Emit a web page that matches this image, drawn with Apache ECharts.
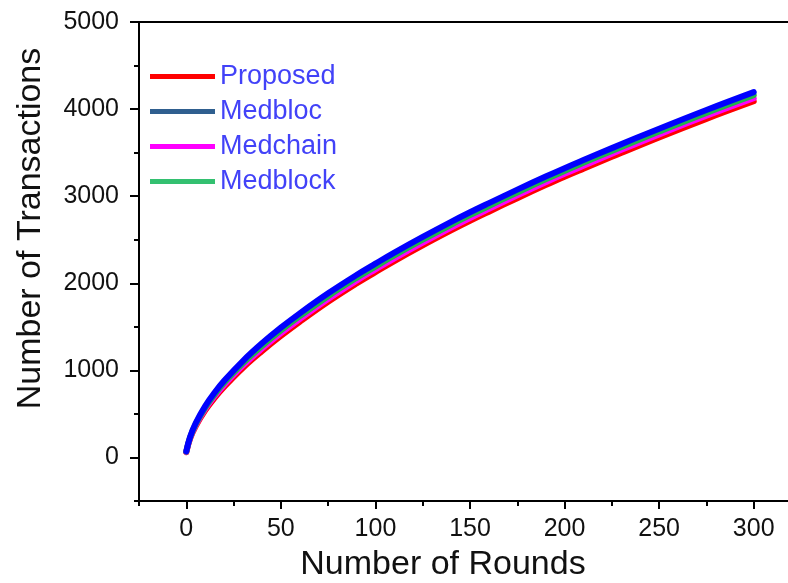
<!DOCTYPE html>
<html>
<head>
<meta charset="utf-8">
<script src="https://cdn.jsdelivr.net/npm/echarts@6/dist/echarts.min.js"></script>
<style>
  html, body { margin: 0; padding: 0; background: #fff; }
  #chart { width: 788px; height: 583px; }
</style>
</head>
<body>
<div id="chart"></div>
<script>
// Transaction count versus number of rounds for four schemes
const rounds = [0, 2, 5, 10, 15, 20, 30, 40, 50, 60, 75, 90, 100, 110, 125, 140, 150, 160, 175, 190, 200, 210, 225, 250, 275, 300];

const proposed = [60, 215, 360, 540, 685, 810, 1030, 1220, 1395, 1558, 1788, 1998, 2128, 2255, 2435, 2607, 2717, 2822, 2977, 3127, 3224, 3316, 3452, 3675, 3888, 4090];
const medbloc  = [70, 235, 395, 590, 745, 880, 1110, 1310, 1490, 1655, 1885, 2095, 2225, 2352, 2532, 2705, 2815, 2920, 3075, 3225, 3322, 3415, 3552, 3775, 3990, 4195];
const medchain = [64, 222, 372, 557, 705, 833, 1057, 1250, 1427, 1590, 1820, 2030, 2160, 2287, 2467, 2640, 2750, 2855, 3010, 3160, 3257, 3350, 3487, 3710, 3923, 4125];
const medblock = [67, 228, 383, 573, 725, 857, 1083, 1280, 1458, 1622, 1852, 2062, 2192, 2320, 2500, 2672, 2782, 2888, 3043, 3193, 3290, 3383, 3520, 3742, 3957, 4160];

const xMajorTicks = [0, 50, 100, 150, 200, 250, 300];
const xMinorTicks = [-25, 25, 75, 125, 175, 225, 275];
const yMajorTicks = [0, 1000, 2000, 3000, 4000, 5000];
const yMinorTicks = [-500, 500, 1500, 2500, 3500, 4500];

const FONT = 'Liberation Sans, Arial, sans-serif';

function pairs(ys) {
  return rounds.map((r, i) => [r, ys[i]]);
}

function lineSeries(name, ys, color) {
  return {
    name: name,
    type: 'line',
    data: pairs(ys),
    smooth: 0.4,
    showSymbol: false,
    symbol: 'none',
    lineStyle: { color: color, width: 6, cap: 'round', join: 'round' },
    itemStyle: { color: color },
    emphasis: { disabled: true }
  };
}

const plain = v => String(v);

const chart = echarts.init(document.getElementById('chart'), null, { renderer: 'canvas' });

const axisLine = { show: true, onZero: false, lineStyle: { color: '#000', width: 2 } };

chart.setOption({
  animation: false,
  backgroundColor: '#fff',
  textStyle: { fontFamily: FONT },
  grid: {
    left: 139, top: 22, width: 662, height: 479,
    outerBoundsMode: 'none', containLabel: false,
    show: true, borderColor: '#000', borderWidth: 2, backgroundColor: 'transparent'
  },
  legend: {
    left: 150, top: 59, padding: 0,
    orient: 'vertical',
    icon: 'rect',
    itemWidth: 65, itemHeight: 5, itemGap: 0,
    textStyle: { color: '#4242f8', fontSize: 27, fontFamily: FONT, lineHeight: 35 },
    data: [
      { name: 'Proposed', itemStyle: { color: '#ff0000' } },
      { name: 'Medbloc',  itemStyle: { color: '#2f5f8f' } },
      { name: 'Medchain', itemStyle: { color: '#ff00ff' } },
      { name: 'Medblock', itemStyle: { color: '#33c070' } }
    ]
  },
  xAxis: [
    {
      type: 'value', min: -25, max: 325, position: 'bottom',
      axisLine: axisLine,
      axisTick: { show: true, customValues: xMajorTicks, length: 8, lineStyle: { color: '#000', width: 2 } },
      axisLabel: { customValues: xMajorTicks, formatter: plain, fontSize: 25, color: '#111', margin: 16, fontFamily: FONT },
      splitLine: { show: false },
      name: 'Number of Rounds', nameLocation: 'middle', nameGap: 47,
      nameTextStyle: { fontSize: 34, color: '#111', fontFamily: FONT, padding: [0, 54, 0, 0] }
    },
    {
      type: 'value', min: -25, max: 325, position: 'bottom',
      axisLine: { show: false, onZero: false },
      axisTick: { show: true, customValues: xMinorTicks, length: 5, lineStyle: { color: '#000', width: 2 } },
      axisLabel: { show: false },
      splitLine: { show: false }
    }
  ],
  yAxis: [
    {
      type: 'value', min: -500, max: 5000, position: 'left',
      axisLine: axisLine,
      axisTick: { show: true, customValues: yMajorTicks, length: 9, lineStyle: { color: '#000', width: 2 } },
      axisLabel: { customValues: yMajorTicks, formatter: plain, fontSize: 25, color: '#111', margin: 20, fontFamily: FONT },
      splitLine: { show: false },
      name: 'Number of Transactions', nameLocation: 'middle', nameGap: 91, nameRotate: 90,
      nameTextStyle: { fontSize: 34, color: '#111', fontFamily: FONT, padding: [0, 0, 0, 66] }
    },
    {
      type: 'value', min: -500, max: 5000, position: 'left',
      axisLine: { show: false, onZero: false },
      axisTick: { show: true, customValues: yMinorTicks, length: 5, lineStyle: { color: '#000', width: 2 } },
      axisLabel: { show: false },
      splitLine: { show: false }
    }
  ],
  series: [
    lineSeries('Proposed', proposed, '#ff0000'),
    lineSeries('Medchain', medchain, '#ff00ff'),
    lineSeries('Medblock', medblock, '#22b24c'),
    lineSeries('Medbloc', medbloc, '#0000ff')
  ]
});
</script>
</body>
</html>
